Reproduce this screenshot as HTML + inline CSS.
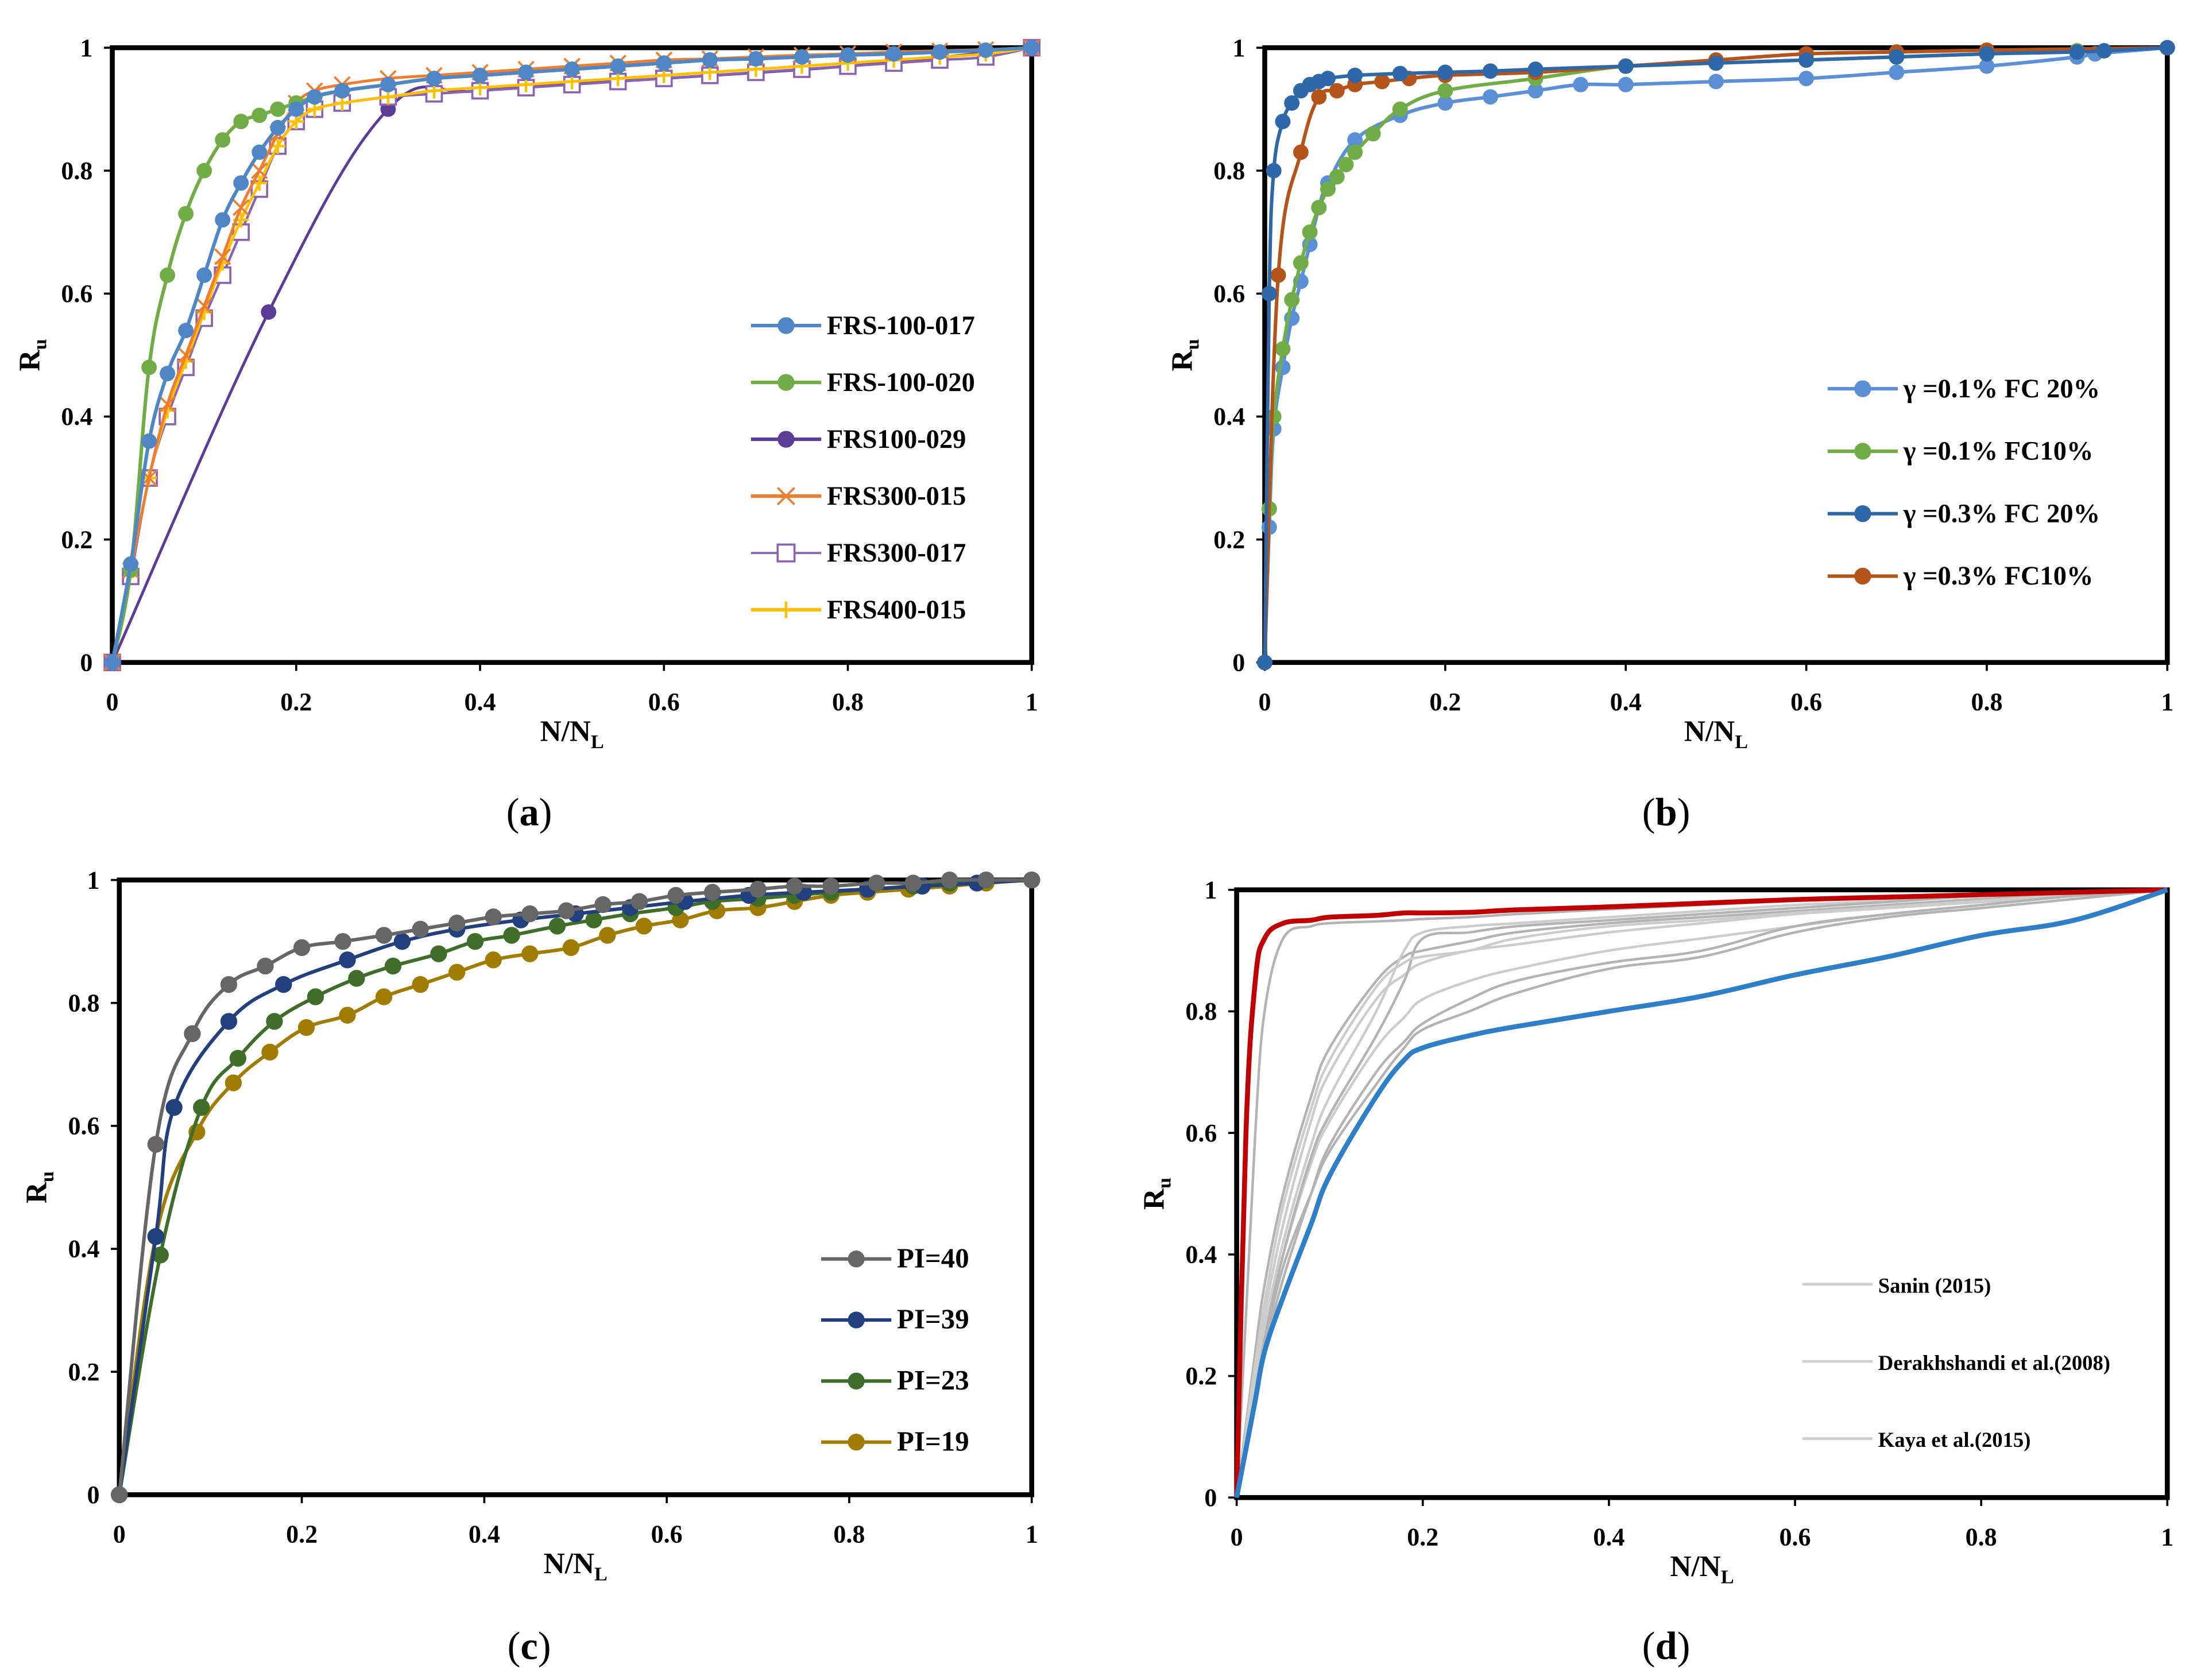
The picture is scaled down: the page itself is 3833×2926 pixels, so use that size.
<!DOCTYPE html>
<html><head><meta charset="utf-8"><style>
html,body{margin:0;padding:0;background:#fff}
svg{display:block}
text{font-family:"Liberation Serif",serif;font-weight:bold;fill:#000}
</style></head><body>
<svg id="fig" width="3833" height="2926" viewBox="0 0 1568 1197" preserveAspectRatio="none" xmlns="http://www.w3.org/2000/svg"></svg>
<script>
const aX1 = [0,0.02,0.04,0.06,0.08,0.1,0.12,0.14,0.16,0.18,0.2,0.22,0.25,0.3,0.35,0.4,0.45,0.5,0.55,0.6,0.65,0.7,0.75,0.8,0.85,0.9,0.95,1];
const aFRS100017 = [0,0.16,0.36,0.47,0.54,0.63,0.72,0.78,0.83,0.87,0.9,0.92,0.93,0.94,0.95,0.955,0.96,0.965,0.97,0.975,0.98,0.982,0.985,0.988,0.99,0.993,0.996,1];
const aFRS100020 = [0,0.15,0.48,0.63,0.73,0.8,0.85,0.88,0.89,0.9,0.91,0.92,0.93,0.94,0.95,0.955,0.96,0.965,0.97,0.975,0.98,0.982,0.985,0.988,0.99,0.993,0.996,1];
const aX3 = [0,0.17,0.3,0.4,0.6,0.8,1];
const aFRS100029 = [0,0.57,0.9,0.93,0.95,0.97,1];
const aFRS300015 = [0,0.15,0.3,0.42,0.5,0.58,0.66,0.74,0.8,0.86,0.91,0.93,0.94,0.95,0.955,0.96,0.965,0.97,0.975,0.98,0.982,0.985,0.988,0.99,0.993,0.995,0.997,1];
const aFRS300017 = [0,0.14,0.3,0.4,0.48,0.56,0.63,0.7,0.77,0.84,0.88,0.9,0.91,0.92,0.925,0.93,0.935,0.94,0.945,0.95,0.955,0.96,0.965,0.97,0.975,0.98,0.985,1];
const aFRS400015 = [0,0.15,0.3,0.41,0.49,0.57,0.65,0.72,0.78,0.84,0.88,0.9,0.91,0.92,0.93,0.935,0.94,0.945,0.95,0.955,0.96,0.965,0.97,0.975,0.98,0.985,0.99,1];
const bX = [0,0.005,0.01,0.02,0.03,0.04,0.05,0.06,0.07,0.1,0.15,0.2,0.25,0.3,0.35,0.4,0.5,0.6,0.7,0.8,0.9,0.92,1];
const bG1FC20 = [0,0.22,0.38,0.48,0.56,0.62,0.68,0.74,0.78,0.85,0.89,0.91,0.92,0.93,0.94,0.94,0.945,0.95,0.96,0.97,0.985,0.99,1];
const bX2 = [0,0.005,0.01,0.02,0.03,0.04,0.05,0.06,0.07,0.08,0.09,0.1,0.12,0.15,0.2,0.3,0.4,0.5,0.6,0.7,0.8,0.9,1];
const bG1FC10 = [0,0.25,0.4,0.51,0.59,0.65,0.7,0.74,0.77,0.79,0.81,0.83,0.86,0.9,0.93,0.95,0.97,0.975,0.98,0.985,0.99,0.995,1];
const bX3 = [0,0.005,0.01,0.02,0.03,0.04,0.05,0.06,0.07,0.1,0.15,0.2,0.25,0.3,0.4,0.5,0.6,0.7,0.8,0.9,0.93,1];
const bG3FC20 = [0,0.6,0.8,0.88,0.91,0.93,0.94,0.945,0.95,0.955,0.958,0.96,0.962,0.965,0.97,0.975,0.98,0.985,0.99,0.993,0.995,1];
const bX4 = [0,0.015,0.04,0.06,0.08,0.1,0.13,0.16,0.2,0.3,0.4,0.5,0.6,0.7,0.8,1];
const bG3FC10 = [0,0.63,0.83,0.92,0.93,0.94,0.945,0.95,0.955,0.96,0.97,0.98,0.99,0.993,0.996,1];
const cX = [0,0.04,0.08,0.12,0.16,0.2,0.245,0.29,0.33,0.37,0.41,0.45,0.49,0.53,0.57,0.61,0.65,0.7,0.74,0.78,0.83,0.87,0.91,0.95,1];
const cPI40 = [0,0.57,0.75,0.83,0.86,0.89,0.9,0.91,0.92,0.93,0.94,0.945,0.95,0.96,0.965,0.975,0.98,0.985,0.99,0.99,0.995,0.995,1,1,1];
const cX2 = [0,0.04,0.06,0.12,0.18,0.25,0.31,0.37,0.44,0.5,0.56,0.62,0.69,0.75,0.82,0.88,0.94,1];
const cPI39 = [0,0.42,0.63,0.77,0.83,0.87,0.9,0.92,0.935,0.945,0.955,0.965,0.975,0.98,0.985,0.99,0.995,1];
const cX3 = [0,0.045,0.09,0.13,0.17,0.215,0.26,0.3,0.35,0.39,0.43,0.48,0.52,0.56,0.61,0.65,0.7,0.74,0.78,0.82,0.87,0.91,0.95,1];
const cPI23 = [0,0.39,0.63,0.71,0.77,0.81,0.84,0.86,0.88,0.9,0.91,0.925,0.935,0.945,0.955,0.965,0.97,0.975,0.98,0.985,0.99,0.995,1,1];
const cX4 = [0,0.04,0.085,0.125,0.165,0.205,0.25,0.29,0.33,0.37,0.41,0.45,0.495,0.535,0.575,0.615,0.655,0.7,0.74,0.78,0.82,0.865,0.91,0.95,1];
const cPI19 = [0,0.42,0.59,0.67,0.72,0.76,0.78,0.81,0.83,0.85,0.87,0.88,0.89,0.91,0.925,0.935,0.95,0.955,0.965,0.975,0.98,0.985,0.99,0.995,1];
const dX = [0,0.01,0.02,0.03,0.05,0.08,0.1,0.15,0.18,0.2,0.25,0.3,0.4,0.5,0.6,0.7,0.8,0.9,1];
const dRed = [0,0.6,0.85,0.92,0.945,0.95,0.955,0.958,0.962,0.962,0.963,0.967,0.972,0.978,0.984,0.988,0.992,0.996,1];
const dBlue = [0,0.08,0.16,0.24,0.33,0.45,0.53,0.66,0.72,0.74,0.76,0.775,0.8,0.825,0.86,0.89,0.925,0.95,1];
const dGray1 = [0,0.3,0.6,0.8,0.92,0.94,0.945,0.948,0.95,0.952,0.955,0.96,0.968,0.975,0.982,0.988,0.993,0.997,1];
const dGray2 = [0,0.1,0.2,0.3,0.45,0.62,0.7,0.82,0.86,0.88,0.9,0.91,0.93,0.945,0.96,0.97,0.98,0.99,1];
const dGray3 = [0,0.12,0.24,0.35,0.5,0.66,0.74,0.85,0.89,0.9,0.915,0.93,0.945,0.955,0.965,0.975,0.985,0.993,1];
const dGray4 = [0,0.09,0.18,0.27,0.4,0.55,0.62,0.74,0.79,0.82,0.85,0.87,0.9,0.92,0.94,0.96,0.975,0.99,1];
const dGray5 = [0,0.08,0.16,0.25,0.38,0.5,0.57,0.68,0.74,0.77,0.8,0.83,0.87,0.89,0.93,0.955,0.97,0.985,1];
const dGray6 = [0,0.1,0.2,0.28,0.42,0.58,0.66,0.8,0.9,0.93,0.94,0.945,0.955,0.965,0.975,0.982,0.99,0.995,1];
const dGray7 = [0,0.09,0.17,0.26,0.4,0.56,0.63,0.76,0.85,0.92,0.93,0.94,0.95,0.96,0.97,0.98,0.99,0.995,1];
const dGray8 = [0,0.11,0.22,0.32,0.48,0.64,0.72,0.84,0.88,0.89,0.9,0.92,0.94,0.95,0.962,0.972,0.982,0.992,1];
const dGray9 = [0,0.08,0.16,0.24,0.36,0.5,0.58,0.7,0.75,0.78,0.82,0.85,0.88,0.9,0.94,0.96,0.975,0.99,1];
const ticks = [0,0.2,0.4,0.6,0.8,1];
const tickLabels = ["0","0.2","0.4","0.6","0.8","1"];

const NS = "http://www.w3.org/2000/svg";
const svg = document.getElementById('fig');
function el(tag, attrs, parent){ const e=document.createElementNS(NS,tag); for(const k in attrs) e.setAttribute(k,attrs[k]); (parent||svg).appendChild(e); return e; }
function smooth(pts){
  if(pts.length<2) return '';
  let d='M'+pts[0][0]+','+pts[0][1];
  for(let i=0;i<pts.length-1;i++){
    const p0=pts[Math.max(0,i-1)],p1=pts[i],p2=pts[i+1],p3=pts[Math.min(pts.length-1,i+2)];
    const t=0.18;
    d+=' C'+(p1[0]+(p2[0]-p0[0])*t)+','+(p1[1]+(p2[1]-p0[1])*t)+' '+(p2[0]-(p3[0]-p1[0])*t)+','+(p2[1]-(p3[1]-p1[1])*t)+' '+p2[0]+','+p2[1];
  }
  return d;
}
function marker(g,type,x,y,c,r){
  let m;
  if(type==='circle'){ m=el('circle',{cx:x,cy:y,r:r,fill:c},g); }
  else if(type==='square'){ m=el('rect',{x:x-r,y:y-r,width:2*r,height:2*r,fill:'#fff',stroke:c,'stroke-width':1.5},g); }
  else if(type==='x'){ m=el('path',{d:`M${x-r},${y-r}L${x+r},${y+r}M${x-r},${y+r}L${x+r},${y-r}`,stroke:c,'stroke-width':1.5},g); }
  else if(type==='plus'){ m=el('path',{d:`M${x-r},${y}L${x+r},${y}M${x},${y-r}L${x},${y+r}`,stroke:c,'stroke-width':1.8},g); }
  if(m){   }
}
function panel(p){
  const g=el('g',{});
  
  
  const sx=v=>p.x0+(p.x1-p.x0)*v, sy=v=>p.y1-(p.y1-p.y0)*v;
  const frame=el('rect',{x:p.x0,y:p.y0,width:p.x1-p.x0,height:p.y1-p.y0,fill:'none',stroke:'#000','stroke-width':3.5},g);
   
  ticks.forEach((t,i)=>{
    const tx=el('text',{x:sx(t),y:p.y1+34,'font-size':18,'text-anchor':'middle'},g);
    tx.textContent=tickLabels[i];
     
    el('line',{x1:sx(t),x2:sx(t),y1:p.y1,y2:p.y1+6,stroke:'#000','stroke-width':1.5},g);
    const ty=el('text',{x:p.x0-14,y:sy(t)+6,'font-size':18,'text-anchor':'end'},g);
    ty.textContent=tickLabels[i];
     
    el('line',{x1:p.x0-6,x2:p.x0,y1:sy(t),y2:sy(t),stroke:'#000','stroke-width':1.5},g);
  });
  const xt=el('text',{x:(p.x0+p.x1)/2,y:p.y1+56,'font-size':21,'text-anchor':'middle'},g);
  xt.innerHTML='N/N<tspan font-size="14" dy="5">L</tspan>';
   
  const yx=p.x0-52, yy=(p.y0+p.y1)/2;
  const yt=el('text',{x:yx,y:yy,'font-size':21,'text-anchor':'middle',transform:`rotate(-90 ${yx} ${yy})`},g);
  yt.innerHTML='R<tspan font-size="14" dy="5">u</tspan>';
   
  const cap=el('text',{x:p.capX,y:p.capY,'font-size':28,'text-anchor':'middle',style:'font-weight:normal'},g);
  cap.innerHTML='(<tspan style="font-weight:bold">'+p.cap+'</tspan>)';
   
  p.series.forEach(s=>{
    const sg=el('g',{},g);
    
    
    const pts=s.x.map((v,i)=>[sx(v),sy(s.y[i])]);
    el('path',{d:smooth(pts),fill:'none',stroke:s.c,'stroke-width':s.w||2.5,'stroke-linejoin':'round'},sg);
    if(s.m) pts.forEach(pt=>marker(sg,s.m,pt[0],pt[1],s.c,s.r||5.5));
  });
  p.legend.forEach((L,i)=>{
    const lg=el('g',{},g);
    
    
    const y=p.ly+i*p.lstep;
    el('line',{x1:p.lx,x2:p.lx+50,y1:y,y2:y,stroke:L.c,'stroke-width':L.w||2.5},lg);
    if(L.m) marker(lg,L.m,p.lx+25,y,L.c,L.r||6);
    const t=el('text',{x:p.lx+54,y:y+6,'font-size':p.lfs||19},lg);
    t.textContent=L.t;
  });
}
const A={x0:80,x1:735,y0:34,y1:472,cap:'a',capX:377,capY:588,name:'panel-a',lx:535,ly:232,lstep:40.5,series:[
  {id:'frs100-029',x:aX3,y:aFRS100029,c:'#5B3C97',m:'circle',w:2},
  {id:'frs300-017',x:aX1,y:aFRS300017,c:'#8B63B0',m:'square',w:1.8,r:5.5},
  {id:'frs400-015',x:aX1,y:aFRS400015,c:'#FFC000',m:'plus',w:2},
  {id:'frs300-015',x:aX1,y:aFRS300015,c:'#ED7D31',m:'x',w:2},
  {id:'frs100-020',x:aX1,y:aFRS100020,c:'#70AD47',m:'circle'},
  {id:'frs100-017',x:aX1,y:aFRS100017,c:'#4F86C6',m:'circle'}],
 legend:[{t:'FRS-100-017',c:'#4F86C6',m:'circle'},{t:'FRS-100-020',c:'#70AD47',m:'circle'},{t:'FRS100-029',c:'#5B3C97',m:'circle'},{t:'FRS300-015',c:'#ED7D31',m:'x'},{t:'FRS300-017',c:'#8B63B0',m:'square',w:1.5},{t:'FRS400-015',c:'#FFC000',m:'plus'}]};
const B={x0:901,x1:1544,y0:34,y1:472,cap:'b',capX:1187,capY:588,name:'panel-b',lx:1302,ly:277,lstep:44.5,series:[
  {id:'g01-fc20',x:bX,y:bG1FC20,c:'#5B8FD6',m:'circle'},
  {id:'g01-fc10',x:bX2,y:bG1FC10,c:'#70AD47',m:'circle'},
  {id:'g03-fc10',x:bX4,y:bG3FC10,c:'#B4541A',m:'circle'},
  {id:'g03-fc20',x:bX3,y:bG3FC20,c:'#2E68A8',m:'circle'}],
 legend:[{t:'γ =0.1% FC 20%',c:'#5B8FD6',m:'circle'},{t:'γ =0.1% FC10%',c:'#70AD47',m:'circle'},{t:'γ =0.3% FC 20%',c:'#2E68A8',m:'circle'},{t:'γ =0.3% FC10%',c:'#B4541A',m:'circle'}]};
const C={x0:85,x1:735,y0:627,y1:1065,cap:'c',capX:377,capY:1182,name:'panel-c',lx:585,ly:897,lstep:43.5,series:[
  {id:'pi19',x:cX4,y:cPI19,c:'#A07D00',m:'circle',r:6},
  {id:'pi23',x:cX3,y:cPI23,c:'#3E6E2A',m:'circle',r:6},
  {id:'pi39',x:cX2,y:cPI39,c:'#223F7E',m:'circle',r:6},
  {id:'pi40',x:cX,y:cPI40,c:'#666666',m:'circle',r:6}],
 legend:[{t:'PI=40',c:'#666666',m:'circle'},{t:'PI=39',c:'#223F7E',m:'circle'},{t:'PI=23',c:'#3E6E2A',m:'circle'},{t:'PI=19',c:'#A07D00',m:'circle'}],lfs:20};
const grays=[dGray1,dGray2,dGray3,dGray4,dGray5,dGray6,dGray7,dGray8,dGray9];
const D={x0:881,x1:1544,y0:634,y1:1067,cap:'d',capX:1187,capY:1182,name:'panel-d',lx:1284,ly:915,lstep:55,lfs:15,series:
  grays.map((y,i)=>({id:'gray-'+(i+1),x:dX,y:y,c:i%2?'#cccccc':'#b3b3b3',w:1.8})).concat([
  {id:'upper-bound',x:dX,y:dRed,c:'#C00000',w:3.5},
  {id:'lower-bound',x:dX,y:dBlue,c:'#2E7FC8',w:3.5}]),
 legend:[{t:'Sanin (2015)',c:'#d0d0d0',w:2},{t:'Derakhshandi et al.(2008)',c:'#d0d0d0',w:2},{t:'Kaya et al.(2015)',c:'#d0d0d0',w:2}]};
[A,B,C,D].forEach(panel);
</script>
</body></html>
